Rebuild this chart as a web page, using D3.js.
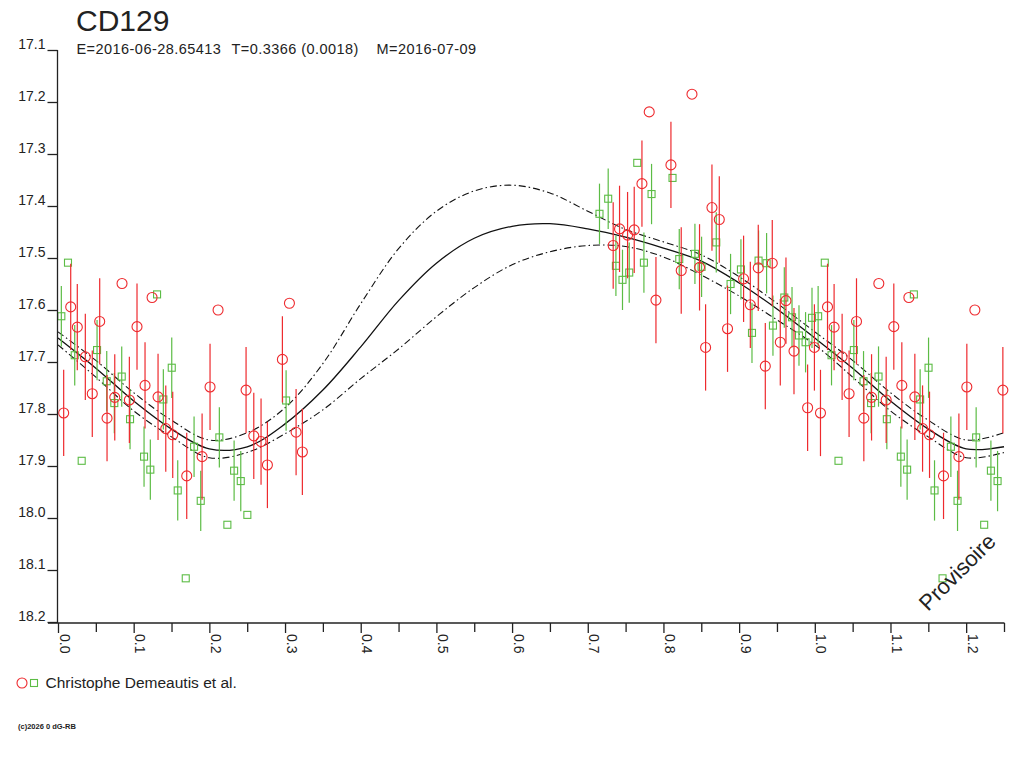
<!DOCTYPE html>
<html><head><meta charset="utf-8">
<script src="https://cdn.jsdelivr.net/npm/d3@7"></script>
<style>
body{margin:0;background:#fff}
svg{display:block}
text{font-family:"Liberation Sans",Arial,sans-serif;fill:#222}
</style>
</head><body>
<svg id="c" width="1024" height="768"></svg>
<script>
// ---------- data ----------
const title = "CD129";
const subtitleParts = ["E=2016-06-28.65413", "T=0.3366 (0.0018)", "M=2016-07-09"];
const legendLabel = "Christophe Demeautis et al.";
const copyright = "(c)2026 0 dG-RB";
const watermark = "Provisoire";

const xMajorTicks = [0.0,0.1,0.2,0.3,0.4,0.5,0.6,0.7,0.8,0.9,1.0,1.1,1.2];
const xMinorTicks = [0.05,0.15,0.25,0.35,0.45,0.55,0.65,0.75,0.85,0.95,1.05,1.15,1.25];
const yTicks = [17.1,17.2,17.3,17.4,17.5,17.6,17.7,17.8,17.9,18.0,18.1,18.2];

const redPhase = [0.0075,0.0168,0.0255,0.0361,0.0453,0.0551,0.0648,0.0750,0.0846,0.0943,0.1044,0.1150,0.1243,0.1322,0.1424,0.1516,0.1701,0.1904,0.2009,0.2115,0.2485,0.2587,0.2683,0.2767,0.2965,0.3058,0.3146,0.3229,
  0.7336,0.7420,0.7526,0.7614,0.7716,0.7812,0.7901,0.8099,0.8235,0.8377,0.8477,0.8557,0.8641,0.8738,0.8847,0.9059,0.9148,0.9253,0.9346,0.9438,0.9544,0.9619,0.9725,0.9905,0.9995];
const redMag = [17.798,17.594,17.633,17.690,17.761,17.622,17.808,17.768,17.549,17.773,17.632,17.745,17.576,17.767,17.828,17.840,17.919,17.882,17.748,17.600,17.754,17.842,17.853,17.898,17.695,17.587,17.835,17.873,
  17.476,17.444,17.456,17.446,17.357,17.219,17.581,17.321,17.524,17.185,17.518,17.672,17.403,17.426,17.636,17.540,17.590,17.519,17.708,17.510,17.662,17.582,17.679,17.788,17.672];
const redErr = [0.083,0.083,0.083,0.083,0.083,0.083,0.083,0.083,0,0.083,0.083,0.083,0,0.083,0.083,0.083,0.083,0.083,0.083,0,0.083,0.083,0.083,0.083,0.083,0,0.083,0.083,
  0.083,0.083,0.083,0.083,0.083,0,0.083,0.083,0.083,0,0.083,0.083,0.083,0.083,0.083,0.083,0.083,0.083,0.083,0.083,0.083,0.083,0.083,0.083,0.083];

const greenPhase = [0.0044,0.0132,0.0221,0.0313,0.0516,0.0644,0.0744,0.0842,0.0952,0.1137,0.1220,0.1309,0.1392,0.1503,0.1582,0.1688,0.1798,0.1886,0.2132,0.2238,0.2327,0.2415,0.2502,0.3014,
  0.7155,0.7270,0.7372,0.7459,0.7548,0.7654,0.7742,0.7843,0.8120,0.8209,0.8416,0.8504,0.8698,0.8887,0.9024,0.9170,0.9257,0.9363,0.9447,0.9597,0.9699,0.9791,0.9878,0.9963];
const greenMag = [17.612,17.509,17.687,17.890,17.677,17.737,17.779,17.728,17.810,17.882,17.907,17.570,17.772,17.711,17.947,18.116,17.863,17.967,17.845,18.013,17.909,17.929,17.994,17.774,
  17.415,17.386,17.515,17.542,17.528,17.317,17.509,17.377,17.346,17.502,17.492,17.517,17.470,17.550,17.522,17.644,17.505,17.510,17.630,17.576,17.614,17.649,17.662,17.615];
const greenErr = [0.058,0,0.058,0,0.058,0.058,0.058,0.058,0.058,0.058,0.058,0,0.058,0.058,0.058,0,0.058,0.058,0.058,0,0.058,0.058,0,0.058,
  0.058,0.058,0.058,0.058,0.058,0,0.058,0.058,0,0.058,0.058,0.058,0.058,0.058,0.058,0.058,0.058,0.058,0.058,0.058,0.058,0.058,0.058,0.058];

const modelPhase = [0,0.05,0.10,0.15,0.20,0.25,0.30,0.35,0.40,0.45,0.50,0.55,0.60,0.65,0.70,0.75,0.80,0.85,0.90,0.95,1.00];
const modelMag   = [17.654,17.712,17.775,17.829,17.867,17.863,17.819,17.754,17.671,17.582,17.510,17.462,17.439,17.434,17.444,17.460,17.481,17.506,17.548,17.598,17.654];
const modelUpper = [17.642,17.697,17.759,17.812,17.850,17.836,17.788,17.703,17.588,17.482,17.410,17.371,17.360,17.375,17.410,17.445,17.469,17.494,17.536,17.587,17.642];
const modelLower = [17.667,17.729,17.794,17.844,17.884,17.874,17.838,17.792,17.732,17.675,17.613,17.557,17.513,17.488,17.476,17.478,17.498,17.533,17.573,17.619,17.667];

const phaseMax = 1.25;

// ---------- build ----------
const svg = d3.select("#c");
const x = d3.scaleLinear().domain([0, 1.25]).range([58, 1004]);
const y = d3.scaleLinear().domain([17.1, 18.2]).range([50, 622]);

function extend(ph, vals) {
  const out = ph.map((p, i) => [p, vals[i]]);
  ph.forEach((p, i) => { if (p > 0 && p + 1 <= phaseMax) out.push([p + 1, vals[i]]); });
  return out;
}
function points(ph, mag, err) {
  const out = ph.map((p, i) => ({p, m: mag[i], e: err[i]}));
  ph.forEach((p, i) => { if (p + 1 <= phaseMax) out.push({p: p + 1, m: mag[i], e: err[i]}); });
  return out;
}

// title
svg.append("text").attr("x", 76).attr("y", 31).attr("font-size", 30).text(title);
const subX = [76.5, 231.5, 376.5];
svg.selectAll("text.sub").data(subtitleParts).enter().append("text")
  .attr("class", "sub").attr("x", (d, i) => subX[i]).attr("y", 54)
  .attr("font-size", 14.5).attr("letter-spacing", 0.45).text(d => d);

// model curves
const line = d3.line().x(d => x(d[0])).y(d => y(d[1])).curve(d3.curveCatmullRom.alpha(0.5));
const gCurves = svg.append("g").attr("fill", "none").attr("stroke", "#111");
gCurves.append("path").attr("d", line(extend(modelPhase, modelUpper)))
  .attr("stroke-width", 1.1).attr("stroke-dasharray", "7,3,1.5,3");
gCurves.append("path").attr("d", line(extend(modelPhase, modelLower)))
  .attr("stroke-width", 1.1).attr("stroke-dasharray", "7,3,1.5,3");
gCurves.append("path").attr("d", line(extend(modelPhase, modelMag)))
  .attr("stroke-width", 1.3);

// data
const red = "#ee2a2e", green = "#5cbc45";
const redPts = points(redPhase, redMag, redErr);
const greenPts = points(greenPhase, greenMag, greenErr);

const gG = svg.append("g");
gG.selectAll("line").data(greenPts.filter(d => d.e > 0)).enter().append("line")
  .attr("x1", d => x(d.p)).attr("x2", d => x(d.p))
  .attr("y1", d => y(d.m - d.e)).attr("y2", d => y(d.m + d.e))
  .attr("stroke", green).attr("stroke-width", 1.2);
gG.selectAll("rect").data(greenPts).enter().append("rect")
  .attr("x", d => x(d.p) - 3.5).attr("y", d => y(d.m) - 3.5)
  .attr("width", 7).attr("height", 7)
  .attr("fill", "none").attr("stroke", green).attr("stroke-width", 1.1);

const gR = svg.append("g");
gR.selectAll("line").data(redPts.filter(d => d.e > 0)).enter().append("line")
  .attr("x1", d => x(d.p)).attr("x2", d => x(d.p))
  .attr("y1", d => y(d.m - d.e)).attr("y2", d => y(d.m + d.e))
  .attr("stroke", red).attr("stroke-width", 1.2);
gR.selectAll("circle").data(redPts).enter().append("circle")
  .attr("cx", d => x(d.p)).attr("cy", d => y(d.m)).attr("r", 5)
  .attr("fill", "none").attr("stroke", red).attr("stroke-width", 1.1);

// axes
const axisColor = "#222";
svg.append("line").attr("x1", 57.5).attr("x2", 57.5).attr("y1", 50).attr("y2", 623)
  .attr("stroke", axisColor).attr("stroke-width", 1.3);
svg.append("line").attr("x1", 48).attr("x2", 1004.5).attr("y1", 623).attr("y2", 623)
  .attr("stroke", axisColor).attr("stroke-width", 1.3);

const yAx = svg.append("g").attr("transform", "translate(57.5,0)")
  .call(d3.axisLeft(y).tickValues(yTicks).tickSize(10).tickPadding(2).tickFormat(d3.format(".1f")));
yAx.select(".domain").remove();
yAx.selectAll("line").attr("stroke", axisColor).attr("stroke-width", 1.3);
yAx.selectAll("text").attr("dy", -1.5).attr("font-size", 14).attr("fill", "#222")
  .attr("font-family", '"Liberation Sans",Arial,sans-serif');

const xAx = svg.append("g").attr("transform", "translate(0,623)")
  .call(d3.axisBottom(x).tickValues(xMajorTicks).tickSize(10).tickFormat(d3.format(".1f")));
xAx.select(".domain").remove();
xAx.selectAll("line").attr("stroke", axisColor).attr("stroke-width", 1.3);
xAx.selectAll("text").attr("x", null).attr("y", null).attr("dy", null)
  .attr("text-anchor", "start").attr("transform", "translate(1,11) rotate(90)")
  .attr("font-size", 14).attr("fill", "#222")
  .attr("font-family", '"Liberation Sans",Arial,sans-serif');

const xMin = svg.append("g").attr("transform", "translate(0,623)")
  .call(d3.axisBottom(x).tickValues(xMinorTicks).tickSize(9).tickFormat(""));
xMin.select(".domain").remove();
xMin.selectAll("line").attr("stroke", axisColor).attr("stroke-width", 1.3);

// watermark
svg.append("text").attr("transform", "translate(928,612) rotate(-45)")
  .attr("font-size", 22).attr("fill", "#222").text(watermark);

// legend
svg.append("circle").attr("cx", 22).attr("cy", 683).attr("r", 5)
  .attr("fill", "none").attr("stroke", red).attr("stroke-width", 1.1);
svg.append("rect").attr("x", 30.5).attr("y", 679.5).attr("width", 7).attr("height", 7)
  .attr("fill", "none").attr("stroke", green).attr("stroke-width", 1.1);
svg.append("text").attr("x", 45.5).attr("y", 688).attr("font-size", 15.5).text(legendLabel);

// copyright
svg.append("text").attr("x", 18).attr("y", 728.5).attr("font-size", 7.5)
  .attr("font-weight", "bold").text(copyright);
</script>
</body></html>
